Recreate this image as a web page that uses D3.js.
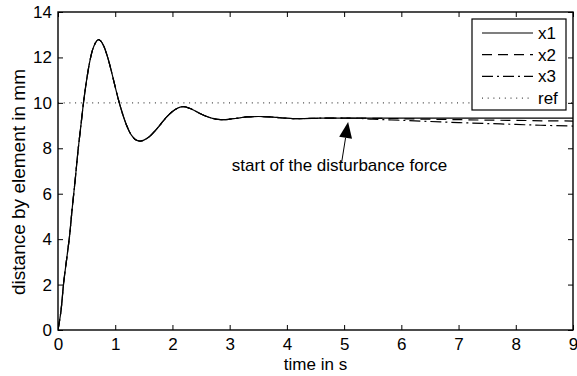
<!DOCTYPE html>
<html>
<head>
<meta charset="utf-8">
<script src="https://cdn.jsdelivr.net/npm/d3@7"></script>
<style>
  html, body { margin: 0; padding: 0; background: #fff; }
  svg { display: block; }
  text { font-family: "Liberation Sans", Arial, Helvetica, sans-serif; fill: #000; }
</style>
</head>
<body>
<svg id="chart" width="577" height="376"></svg>
<script>
// ---- data ----
const time = [0,0.05,0.1,0.15,0.2,0.25,0.3,0.35,0.4,0.45,0.5,0.55,0.6,0.65,0.7,0.75,0.8,0.85,0.9,0.95,1.0,1.05,1.1,1.15,1.2,1.25,1.3,1.35,1.4,1.45,1.5,1.6,1.7,1.8,1.9,2.0,2.1,2.2,2.3,2.4,2.5,2.6,2.7,2.8,2.9,3.0,3.1,3.2,3.3,3.5,3.7,3.9,4.1,4.3,4.5,4.7,5.0,5.25,5.5,6.0,6.5,7.0,7.5,8.0,8.5,9.0];
const x1 = [0,0.8,2.1,3.1,4.1,5.4,6.6,7.9,9.0,10.1,11.0,11.75,12.3,12.62,12.78,12.72,12.5,12.15,11.72,11.22,10.7,10.2,9.75,9.35,9.0,8.72,8.52,8.39,8.33,8.32,8.36,8.52,8.78,9.08,9.38,9.62,9.78,9.83,9.76,9.64,9.51,9.4,9.32,9.27,9.26,9.28,9.31,9.35,9.38,9.40,9.38,9.34,9.31,9.31,9.32,9.33,9.33,9.33,9.33,9.33,9.33,9.33,9.33,9.33,9.33,9.33];
const x2 = [0,0.8,2.1,3.1,4.1,5.4,6.6,7.9,9.0,10.1,11.0,11.75,12.3,12.62,12.78,12.72,12.5,12.15,11.72,11.22,10.7,10.2,9.75,9.35,9.0,8.72,8.52,8.39,8.33,8.32,8.36,8.52,8.78,9.08,9.38,9.62,9.78,9.83,9.76,9.64,9.51,9.4,9.32,9.27,9.26,9.28,9.31,9.35,9.38,9.40,9.38,9.34,9.31,9.31,9.32,9.33,9.33,9.33,9.32,9.30,9.28,9.26,9.24,9.23,9.21,9.20];
const x3 = [0,0.8,2.1,3.1,4.1,5.4,6.6,7.9,9.0,10.1,11.0,11.75,12.3,12.62,12.78,12.72,12.5,12.15,11.72,11.22,10.7,10.2,9.75,9.35,9.0,8.72,8.52,8.39,8.33,8.32,8.36,8.52,8.78,9.08,9.38,9.62,9.78,9.83,9.76,9.64,9.51,9.4,9.32,9.27,9.26,9.28,9.31,9.35,9.38,9.40,9.38,9.34,9.31,9.31,9.32,9.33,9.33,9.32,9.28,9.23,9.18,9.13,9.09,9.05,9.01,8.98];
const refValue = 10;
const seriesNames = ["x1", "x2", "x3", "ref"];
const xTicks = [0,1,2,3,4,5,6,7,8,9];
const yTicks = [0,2,4,6,8,10,12,14];
const xLabel = "time in s";
const yLabel = "distance by element in mm";
const annotationText = "start of the disturbance force";
const annotationTip = [5.07, 9.16];   // data coords of arrow tip
const annotationTail = [4.955, 7.35]; // data coords of arrow tail
const annotationPos = [4.92, 7.0];    // data coords of text (centre, baseline)

// ---- layout ----
const svg = d3.select("#chart");
const L = 58, R = 573, T = 12, B = 330;
const x = d3.scaleLinear().domain([0, 9]).range([L, R]);
const y = d3.scaleLinear().domain([0, 14]).range([B, T]);
const FS = 17;

svg.append("defs").append("clipPath").attr("id", "clip")
  .append("rect").attr("x", L).attr("y", T).attr("width", R - L).attr("height", B - T);

const styles = {
  x1: { dash: null },
  x2: { dash: "10,6" },
  x3: { dash: "11,4,2,4" },
  ref: { dash: "1,4.7" }
};

const line = d3.line().x(d => x(d[0])).y(d => y(d[1])).curve(d3.curveCatmullRom.alpha(0.5));
const plot = svg.append("g").attr("clip-path", "url(#clip)");

const seriesData = {
  x1: time.map((t, i) => [t, x1[i]]),
  x2: time.map((t, i) => [t, x2[i]]),
  x3: time.map((t, i) => [t, x3[i]])
};
["x1", "x2", "x3"].forEach(k => {
  plot.append("path").datum(seriesData[k])
    .attr("d", line).attr("fill", "none").attr("stroke", "#000")
    .attr("stroke-width", 1.2)
    .attr("stroke-dasharray", styles[k].dash);
});
plot.append("line")
  .attr("x1", x(0)).attr("x2", x(9)).attr("y1", y(refValue)).attr("y2", y(refValue))
  .attr("stroke", "#444").attr("stroke-width", 1.1)
  .attr("stroke-dasharray", styles.ref.dash);

// ---- axes ----
function styleAxis(g) {
  g.select(".domain").remove();
  g.selectAll(".tick line").attr("stroke", "#000").attr("stroke-width", 1);
  g.selectAll("text").attr("font-size", FS).attr("font-family", '"Liberation Sans", Arial, sans-serif');
}
svg.append("g").attr("transform", `translate(0,${B})`)
  .call(d3.axisBottom(x).tickValues(xTicks).tickFormat(d3.format("d")).tickSizeInner(-5).tickSizeOuter(0).tickPadding(8))
  .call(styleAxis);
svg.append("g").attr("transform", `translate(0,${T})`)
  .call(d3.axisTop(x).tickValues(xTicks).tickFormat("").tickSizeInner(-5).tickSizeOuter(0))
  .call(styleAxis);
svg.append("g").attr("transform", `translate(${L},0)`)
  .call(d3.axisLeft(y).tickValues(yTicks).tickFormat(d3.format("d")).tickSizeInner(-5).tickSizeOuter(0).tickPadding(6))
  .call(styleAxis);
svg.append("g").attr("transform", `translate(${R},0)`)
  .call(d3.axisRight(y).tickValues(yTicks).tickFormat("").tickSizeInner(-5).tickSizeOuter(0))
  .call(styleAxis);

svg.append("rect").attr("x", L).attr("y", T).attr("width", R - L).attr("height", B - T)
  .attr("fill", "none").attr("stroke", "#000").attr("stroke-width", 1.4);

// axis labels
svg.append("text").attr("x", (L + R) / 2).attr("y", 370).attr("text-anchor", "middle")
  .attr("font-size", FS).text(xLabel);
svg.append("text").attr("transform", `translate(25,182) rotate(-90)`)
  .attr("text-anchor", "middle").attr("font-size", 19).text(yLabel);

// ---- annotation ----
const tip = [x(annotationTip[0]), y(annotationTip[1])];
const tail = [x(annotationTail[0]), y(annotationTail[1])];
const ang = Math.atan2(tip[1] - tail[1], tip[0] - tail[0]);
const headLen = 16, headW = 6.5;
const baseC = [tip[0] - headLen * Math.cos(ang), tip[1] - headLen * Math.sin(ang)];
const px = -Math.sin(ang), py = Math.cos(ang);
svg.append("line").attr("x1", tail[0]).attr("y1", tail[1]).attr("x2", baseC[0]).attr("y2", baseC[1])
  .attr("stroke", "#000").attr("stroke-width", 1);
svg.append("path")
  .attr("d", `M${tip[0]},${tip[1]} L${baseC[0] + px * headW},${baseC[1] + py * headW} L${baseC[0] - px * headW},${baseC[1] - py * headW} Z`)
  .attr("fill", "#000");
svg.append("text").attr("x", x(annotationPos[0])).attr("y", y(annotationPos[1]))
  .attr("text-anchor", "middle").attr("font-size", FS).text(annotationText);

// ---- legend ----
const lg = svg.append("g");
const lgX = 472, lgY = 19, lgW = 94, lgH = 91;
lg.append("rect").attr("x", lgX).attr("y", lgY).attr("width", lgW).attr("height", lgH)
  .attr("fill", "#fff").attr("stroke", "#000").attr("stroke-width", 1.2);
seriesNames.forEach((name, i) => {
  const yy = lgY + 14 + i * 21.7;
  lg.append("line").attr("x1", lgX + 10).attr("x2", lgX + 61).attr("y1", yy).attr("y2", yy)
    .attr("stroke", name === "ref" ? "#444" : "#000").attr("stroke-width", name === "ref" ? 1.1 : 1.2)
    .attr("stroke-dasharray", styles[name].dash);
  lg.append("text").attr("x", lgX + 66).attr("y", yy).attr("dy", "0.35em")
    .attr("font-size", FS).text(name);
});
</script>
</body>
</html>
